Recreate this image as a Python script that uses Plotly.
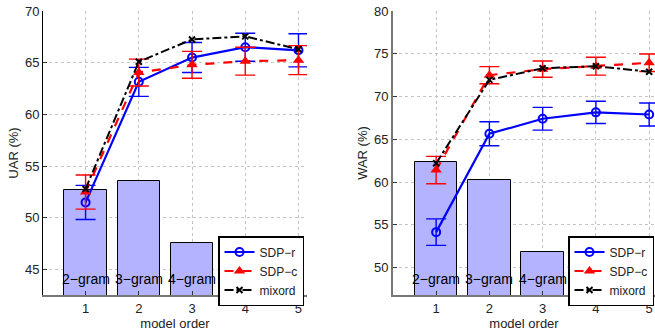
import plotly.graph_objects as go

orders = [1, 2, 3, 4, 5]
bar_x = [1, 2, 3]
bar_labels = ["2\u2212gram", "3\u2212gram", "4\u2212gram"]

# UAR panel
uar_bars = [52.67, 53.6, 47.6]
uar_sdp_r = [51.5, 63.15, 65.5, 66.5, 66.2]
uar_sdp_r_err = [1.65, 1.4, 1.45, 1.35, 1.6]
uar_sdp_c = [52.5, 64.05, 64.8, 65.15, 65.25]
uar_sdp_c_err = [1.65, 1.3, 1.3, 1.35, 1.4]
uar_mixord = [52.8, 65.1, 67.25, 67.55, 66.3]

# WAR panel
war_bars = [62.3, 60.2, 51.8]
war_sdp_r = [54.15, 65.65, 67.4, 68.15, 67.9]
war_sdp_r_err = [1.55, 1.4, 1.33, 1.3, 1.35]
war_sdp_c = [61.4, 72.5, 73.2, 73.55, 73.95]
war_sdp_c_err = [1.6, 1.0, 0.95, 1.05, 1.03]
war_mixord = [62.2, 71.95, 73.3, 73.55, 72.9]

FONT = "Liberation Sans, Arial, sans-serif"
BAR_COLOR = "#b3b3ff"

W, H = 655, 333
def px(x):
    return x / W
def py(y):
    return 1 - y / H

fig = go.Figure()

def add_panel(xa, ya, legend, bars, r, r_err, c, c_err, m):
    fig.add_trace(go.Bar(x=bar_x, y=bars, width=0.8, marker=dict(color=BAR_COLOR, line=dict(color="black", width=1)),
                         xaxis=xa, yaxis=ya, showlegend=False))
    fig.add_trace(go.Scatter(x=orders, y=r, name="SDP\u2212r", mode="lines+markers",
                             line=dict(color="#0000ff", width=2.2),
                             marker=dict(symbol="circle-open", size=8, color="#0000ff", line=dict(width=2)),
                             error_y=dict(type="data", array=r_err, color="#0000ff", thickness=1.4, width=10),
                             xaxis=xa, yaxis=ya, legend=legend))
    fig.add_trace(go.Scatter(x=orders, y=c, name="SDP\u2212c", mode="lines+markers",
                             line=dict(color="#ff0000", width=2.2, dash="dash"),
                             marker=dict(symbol="triangle-up", size=10, color="#ff0000"),
                             error_y=dict(type="data", array=c_err, color="#ff0000", thickness=1.4, width=10),
                             xaxis=xa, yaxis=ya, legend=legend))
    fig.add_trace(go.Scatter(x=orders, y=m, name="mixord", mode="lines+markers",
                             line=dict(color="black", width=2, dash="dashdot"),
                             marker=dict(symbol="x-thin", size=6, color="black", line=dict(width=2, color="black")),
                             xaxis=xa, yaxis=ya, legend=legend))

add_panel("x", "y", "legend", uar_bars, uar_sdp_r, uar_sdp_r_err, uar_sdp_c, uar_sdp_c_err, uar_mixord)
add_panel("x2", "y2", "legend2", war_bars, war_sdp_r, war_sdp_r_err, war_sdp_c, war_sdp_c_err, war_mixord)

axis_common = dict(showgrid=True, gridcolor="#c4c4c4", griddash="dot", gridwidth=1, zeroline=False,
                   ticks="inside", ticklen=4, tickcolor="#333", automargin=False,
                   ticklabeloverflow="allow",
                   tickfont=dict(size=13, color="#222", family=FONT))

ydom = [py(295), py(11)]
leg_common = dict(xanchor="left", yanchor="top", bgcolor="white",
                  bordercolor="black", borderwidth=1.5, font=dict(size=12, color="#222"),
                  tracegroupgap=0, itemwidth=30)
fig.update_layout(
    width=W, height=H, margin=dict(l=0, r=0, t=0, b=0, autoexpand=False),
    paper_bgcolor="white", plot_bgcolor="white", font=dict(family=FONT, color="#222"),
    bargap=0,
    xaxis=dict(domain=[px(43), px(307)], range=[0.2, 5.16], tickvals=orders, anchor="y",
               showline=True, linecolor="#777", linewidth=2,
               title=dict(text="model order", font=dict(size=13), standoff=1), **axis_common),
    yaxis=dict(domain=ydom, range=[42.55, 70], tickvals=[45, 50, 55, 60, 65, 70], anchor="x",
               showline=True, linecolor="black", linewidth=1,
               title=dict(text="UAR (%)", font=dict(size=13), standoff=3), **axis_common),
    xaxis2=dict(domain=[px(393), 1.0], range=[0.19, 5.11], tickvals=orders, anchor="y2",
                showline=True, linecolor="#777", linewidth=2,
                title=dict(text="model order", font=dict(size=13), standoff=1), **axis_common),
    yaxis2=dict(domain=ydom, range=[46.8, 80], tickvals=[50, 55, 60, 65, 70, 75, 80], anchor="x2",
                showline=True, linecolor="#777", linewidth=2,
                title=dict(text="WAR (%)", font=dict(size=13), standoff=3), **axis_common),
    legend=dict(x=px(218), y=py(236), **leg_common),
    legend2=dict(x=px(568), y=py(236), **leg_common),
)

for xref in ("x", "x2"):
    for bx, lab in zip(bar_x, bar_labels):
        fig.add_annotation(x=bx, xref=xref, y=py(279), yref="paper", text=lab, showarrow=False,
                           font=dict(size=14, color="black", family=FONT), xanchor="center", yanchor="middle")

fig.write_html("out.html", config={"displayModeBar": False},
               post_script="document.body.style.margin='0';document.body.style.overflow='hidden';")
